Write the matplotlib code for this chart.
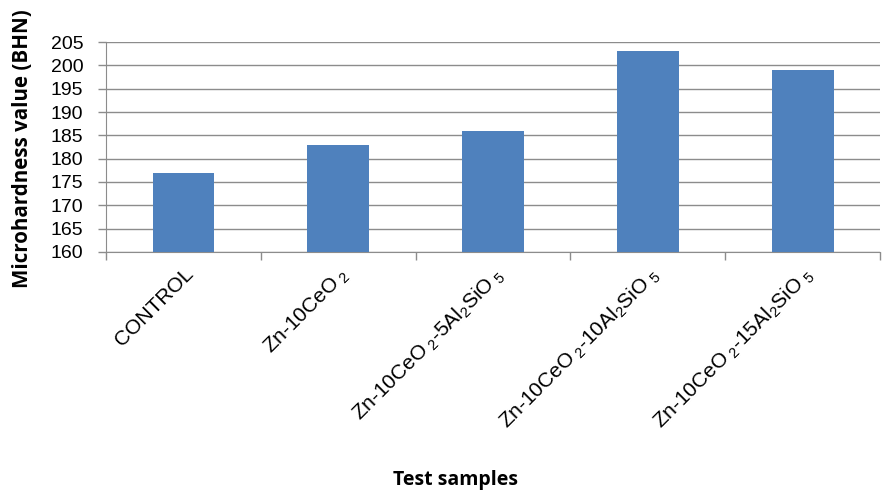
import numpy as np
import matplotlib
matplotlib.use("Agg")
import matplotlib.pyplot as plt

plt.rcParams['font.family'] = ['Liberation Sans', 'DejaVu Sans']
plt.rcParams['mathtext.fontset'] = 'custom'
plt.rcParams['mathtext.rm'] = 'Liberation Sans'
plt.rcParams['mathtext.it'] = 'Liberation Sans'

samples = ['CONTROL',
           r'Zn-10CeO$_{\ 2}$',
           r'Zn-10CeO$_{\ 2}$-5Al$_2$SiO$_{\ 5}$',
           r'Zn-10CeO$_{\ 2}$-10Al$_2$SiO$_{\ 5}$',
           r'Zn-10CeO$_{\ 2}$-15Al$_2$SiO$_{\ 5}$']
hardness = [177, 183, 186, 203, 199]
yticks = [160, 165, 170, 175, 180, 185, 190, 195, 200, 205]

fig = plt.figure(figsize=(8.84, 4.95), dpi=100)
ax = fig.add_axes([0.12, 0.491, 0.8755, 0.424])

x = np.arange(len(samples))
ax.bar(x, hardness, width=0.4, color='#4F81BD', zorder=3)

ax.set_ylim(160, 205)
ax.set_xlim(-0.5, len(samples) - 0.5)
ax.set_yticks(yticks)
ax.set_yticklabels([str(v) for v in yticks], fontsize=14)
ax.yaxis.grid(True, color='#8c8c8c', linewidth=1.0, zorder=0)
ax.tick_params(axis='y', which='major', length=5.5, color='#8c8c8c', width=1, pad=11)

# category boundaries get the tick marks, names sit on minor ticks at bar centres
ax.set_xticks(np.arange(len(samples) + 1) - 0.5)
ax.set_xticklabels([])
ax.set_xticks(x, minor=True)
ax.set_xticklabels(samples, minor=True, rotation=45, ha='right', va='top',
                   rotation_mode='anchor', fontsize=15)
ax.tick_params(axis='x', which='major', length=6, color='#8c8c8c', width=1)
ax.tick_params(axis='x', which='minor', length=0, pad=9)

for s in ['top', 'right']:
    ax.spines[s].set_visible(False)
for s in ['left', 'bottom']:
    ax.spines[s].set_color('#8c8c8c')

fig.text(0.025, 0.70, 'Microhardness value (BHN)', fontsize=14.8, fontweight='bold',
         family=['Open Sans', 'DejaVu Sans'], rotation=90, ha='center', va='center')
fig.text(0.515, 0.03, 'Test samples', fontsize=14, fontweight='bold',
         family=['Open Sans', 'DejaVu Sans'], ha='center', va='center')

fig.savefig('out.png', dpi=100)
